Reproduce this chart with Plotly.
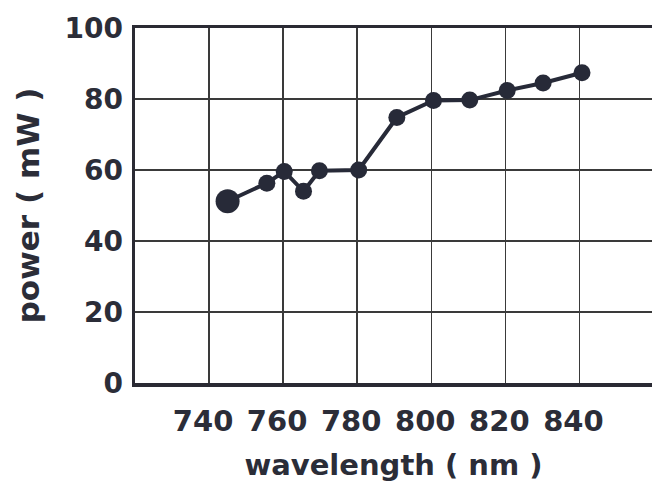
import plotly.graph_objects as go

wavelength = [745, 755.6, 760.3, 765.5, 769.8, 780.4, 790.7, 800.6, 810.4, 820.5, 830.2, 840.7]
power = [51.2, 56.3, 59.6, 54.0, 59.8, 60.0, 74.8, 79.6, 79.7, 82.4, 84.5, 87.4]

x_ticks = [740, 760, 780, 800, 820, 840]
y_ticks = [0, 20, 40, 60, 80, 100]

ink = "#2b2d38"
sizes = [24] + [17] * (len(wavelength) - 1)

fig = go.Figure()
fig.add_trace(go.Scatter(
    x=wavelength, y=power, mode="lines+markers",
    line=dict(color="#272a38", width=4),
    marker=dict(color="#272a38", size=sizes, opacity=1, line=dict(width=0)),
    opacity=1, showlegend=False, hoverinfo="skip",
))

xfont = dict(family="DejaVu Sans", size=29, color=ink, weight="bold")
yfont = dict(family="DejaVu Sans", size=28, color=ink, weight="bold")

fig.update_layout(
    width=652, height=493,
    margin=dict(l=135, r=0, t=28, b=110, autoexpand=False),
    paper_bgcolor="white", plot_bgcolor="white",
    font=yfont,
)
fig.update_xaxes(
    range=[720, 859.6], tickvals=x_ticks, ticktext=[str(v) for v in x_ticks],
    showgrid=True, gridcolor="#3a3a3a", gridwidth=1.5,
    showline=True, linecolor="#2a2a33", linewidth=3.5, mirror=True,
    zeroline=False, ticks="", tickfont=xfont, ticklabelstandoff=10, ticklabelshift=-6,
    automargin=False,
    title=dict(text="wavelength ( nm )", font=dict(family="DejaVu Sans", size=29, color=ink, weight="bold"), standoff=18),
)
fig.update_yaxes(
    range=[0, 100], tickvals=y_ticks, ticktext=[str(v) for v in y_ticks],
    showgrid=True, gridcolor="#3a3a3a", gridwidth=1.5,
    showline=True, linecolor="#2a2a33", linewidth=3.5,
    zeroline=False, ticks="", tickfont=yfont, ticklabelstandoff=3,
    automargin=False,
    title=dict(text="power ( mW )", font=dict(family="DejaVu Sans", size=31, color=ink, weight="bold"), standoff=16),
)

fig.write_html(
    "out.html",
    config={"displayModeBar": False, "staticPlot": True},
    post_script="document.body.style.margin='0';document.body.style.overflow='hidden';",
)
